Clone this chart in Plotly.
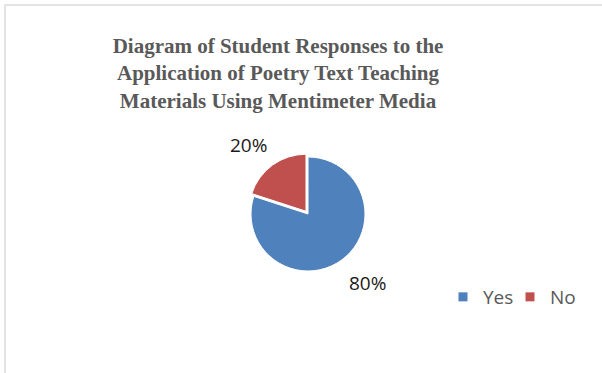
import math
import plotly.graph_objects as go

categories = ["Yes", "No"]
values = [80, 20]
colors = ["#4F81BD", "#C0504D"]
pulls = [0, 0.06]
title_text = ("Diagram of Student Responses to the<br>"
              "Application of Poetry Text Teaching<br>"
              "Materials Using Mentimeter Media")

W, H = 602, 373
cx, cy, r = 308, 214, 57
half = r * (1 + max(pulls))
label_dist = 67  # px from centre to label corner

fig = go.Figure()
fig.add_trace(go.Pie(
    labels=categories, values=values, sort=False, direction="clockwise",
    rotation=0, pull=pulls,
    marker=dict(colors=colors, line=dict(color="white", width=1)),
    textinfo="none", showlegend=False, hoverinfo="label+percent",
    domain=dict(x=[(cx - half) / W, (cx + half) / W],
                y=[1 - (cy + half) / H, 1 - (cy - half) / H]),
))
legend_ids = ["legend", "legend2"]
for name, col, lid in zip(categories, colors, legend_ids):
    fig.add_trace(go.Scatter(x=[None], y=[None], mode="markers", name=name,
                             legend=lid,
                             marker=dict(symbol="square", size=9, color=col)))

# data labels placed outside each slice along its mid-angle
total = sum(values)
annotations = []
cum = 0
for v in values:
    mid = (cum + v / 2) / total * 2 * math.pi  # clockwise from 12 o'clock
    cum += v
    ux, uy = math.sin(mid), -math.cos(mid)  # screen direction (y down)
    px, py = cx + label_dist * ux, cy + label_dist * uy
    annotations.append(dict(
        text=f"{round(v / total * 100)}%", showarrow=False,
        xref="paper", yref="paper", x=px / W, y=1 - py / H,
        xanchor="left" if ux >= 0 else "right",
        yanchor="top" if uy >= 0 else "bottom",
        font=dict(family="Open Sans", size=19, color="#1a1a1a")))

legend_style = dict(orientation="h", xanchor="left", yanchor="middle",
                    y=1 - 297 / H, itemwidth=30,
                    font=dict(family="Open Sans", size=19, color="#595959"),
                    bgcolor="rgba(0,0,0,0)")

fig.update_layout(
    width=W, height=H, margin=dict(l=0, r=0, t=0, b=0),
    paper_bgcolor="white", plot_bgcolor="white",
    title=dict(text=title_text, x=278 / W, xanchor="center",
               yref="container", y=1 - 53 / H, yanchor="top",
               font=dict(family="Liberation Serif", size=21, color="#595959",
                         weight="bold")),
    xaxis=dict(visible=False), yaxis=dict(visible=False),
    legend=dict(x=443 / W, **legend_style),
    legend2=dict(x=510 / W, **legend_style),
    annotations=annotations,
    shapes=[dict(type="rect", xref="paper", yref="paper",
                 x0=5 / W, x1=1.5, y0=-0.5, y1=1 - 5 / H,
                 line=dict(color="#dcdcdc", width=1.5))],
)
fig.write_html("out.html")
